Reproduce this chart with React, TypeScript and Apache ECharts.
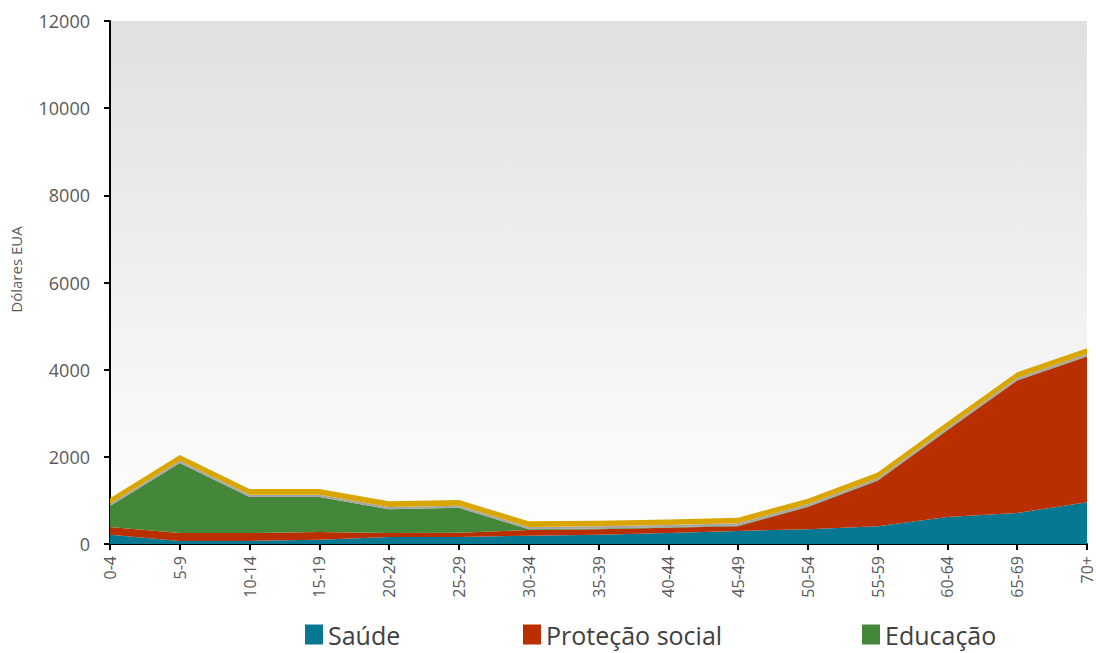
import React, { useEffect, useRef } from "react";
import * as echarts from "echarts";

const categories = ["0-4", "5-9", "10-14", "15-19", "20-24", "25-29", "30-34", "35-39", "40-44", "45-49", "50-54", "55-59", "60-64", "65-69", "70+"];
const saude = [210, 70, 70, 100, 160, 160, 190, 210, 250, 300, 340, 410, 620, 710, 960];
const protecao = [180, 180, 180, 175, 90, 100, 130, 130, 120, 110, 510, 1040, 1990, 3040, 3340];
const educacao = [480, 1610, 830, 805, 550, 570, 20, 15, 15, 15, 10, 10, 10, 10, 10];
const outros1 = [50, 50, 50, 50, 50, 50, 50, 50, 50, 50, 50, 50, 50, 50, 50];
const outros2 = [130, 130, 130, 130, 130, 130, 130, 130, 130, 130, 130, 130, 130, 130, 130];
const yTicks = { min: 0, max: 12000, interval: 2000 };
const legendNames = ["Saúde", "Proteção social", "Educação"];

export default function App() {
  const ref = useRef<HTMLDivElement>(null);
  useEffect(() => {
    const chart = echarts.init(ref.current!, null, { renderer: "svg" });
    const font = "'Open Sans', 'Noto Sans', sans-serif";
    const mk = (name: string, data: number[], color: string) => ({
      name,
      type: "line",
      stack: "total",
      data,
      symbol: "none",
      lineStyle: { width: 0 },
      itemStyle: { color },
      areaStyle: { color, opacity: 1 },
    });
    const legendLefts = [305, 523, 862];
    chart.setOption({
      animation: false,
      grid: {
        left: 106,
        right: 9,
        top: 21,
        bottom: 109,
        show: true,
        borderWidth: 0,
        backgroundColor: {
          type: "linear",
          x: 0,
          y: 0,
          x2: 0,
          y2: 1,
          colorStops: [
            { offset: 0, color: "#e0e0e0" },
            { offset: 1, color: "#ffffff" },
          ],
        },
      },
      legend: legendNames.map((n, i) => ({
        top: 622,
        left: legendLefts[i],
        padding: 0,
        itemGap: 10,
        itemWidth: 18,
        itemHeight: 20,
        icon: "rect",
        data: [n],
        textStyle: { fontFamily: font, fontSize: 25, color: "#404040" },
      })),
      xAxis: {
        type: "category",
        data: categories,
        boundaryGap: false,
        axisLine: { lineStyle: { color: "#000", width: 2 } },
        axisTick: { alignWithLabel: true, length: 6, lineStyle: { color: "#000", width: 2 } },
        axisLabel: { rotate: 90, color: "#595959", fontFamily: font, fontSize: 16, lineHeight: 16, margin: 12 },
        splitLine: { show: false },
      },
      yAxis: {
        type: "value",
        min: yTicks.min,
        max: yTicks.max,
        interval: yTicks.interval,
        name: "Dólares EUA",
        nameLocation: "middle",
        nameGap: 87,
        nameTextStyle: { color: "#595959", fontFamily: font, fontSize: 15, padding: [0, 0, 0, 26] },
        axisLine: { show: true, lineStyle: { color: "#000", width: 2 } },
        axisTick: { show: true, length: 6, lineStyle: { color: "#000", width: 2 } },
        axisLabel: { color: "#595959", fontFamily: font, fontSize: 18, margin: 20, formatter: (v: number) => String(v) },
        splitLine: { show: false },
      },
      series: [
        mk("Saúde", saude, "#077891"),
        mk("Proteção social", protecao, "#BA2F00"),
        mk("Educação", educacao, "#45873A"),
        mk("Outros", outros1, "#A6A6A6"),
        mk("Outros 2", outros2, "#D9A600"),
      ],
    });
    return () => chart.dispose();
  }, []);
  return <div ref={ref} style={{ position: "absolute", left: 0, top: 0, width: 1096, height: 653 }} />;
}
